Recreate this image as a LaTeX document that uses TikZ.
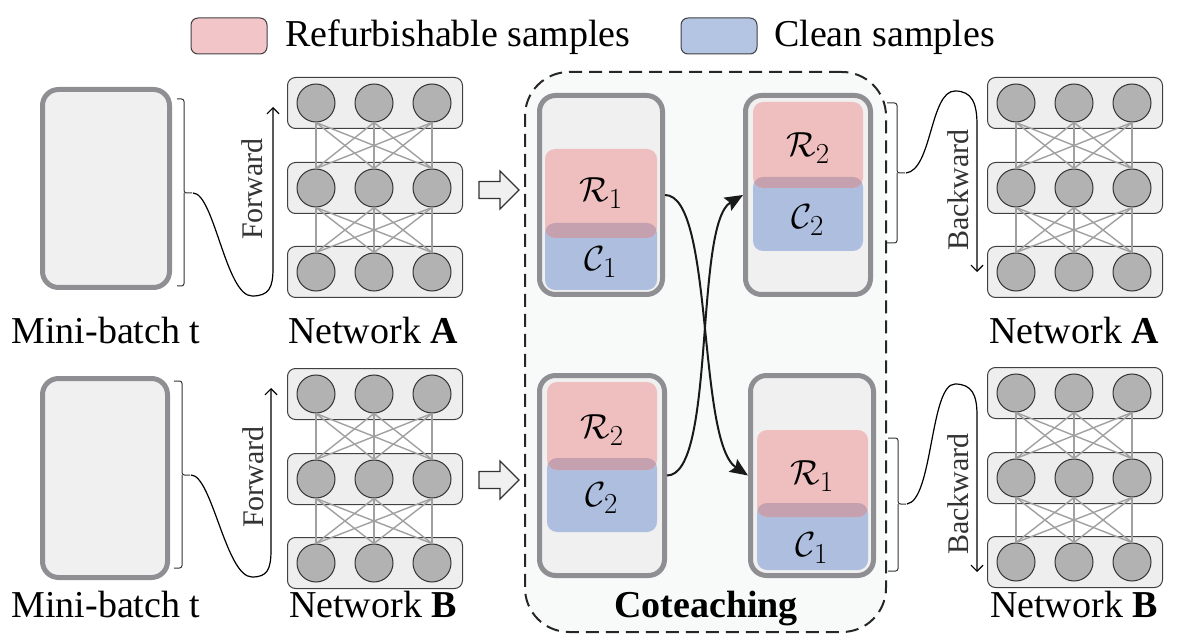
\documentclass[tikz,border=0pt]{standalone}
\usepackage{fontspec}
\setmainfont{Liberation Serif}
\usetikzlibrary{arrows.meta}
\definecolor{pinkc}{HTML}{EFBFC0}
\definecolor{bluec}{HTML}{ADBEDE}
\definecolor{mauvec}{HTML}{C5A0AE}
\definecolor{legpink}{HTML}{F2C6C8}
\definecolor{legblue}{HTML}{B4C5E4}
\definecolor{bordc}{HTML}{8F8F93}
\definecolor{boxc}{HTML}{F0F0F0}
\definecolor{cotc}{HTML}{F8F9F9}
\definecolor{neuc}{HTML}{B2B2B2}
\definecolor{rowc}{HTML}{EEEEEE}
\definecolor{linkc}{HTML}{A0A0A0}
\tikzset{
 batchbox/.style={draw=bordc, line width=5pt, fill=boxc, rounded corners=16pt, inner sep=0pt},
 rowbox/.style={draw=black!75, line width=1pt, fill=rowc, rounded corners=8pt, inner sep=0pt, minimum width=175pt, minimum height=51pt},
 neuron/.style={circle, draw=black!80, line width=1pt, fill=neuc, minimum size=38pt, inner sep=0pt},
 link/.style={draw=linkc, line width=1.4pt},
 lbl/.style={font=\fontsize{38}{42}\selectfont, inner sep=0pt},
 rotlbl/.style={font=\fontsize{30}{32}\selectfont, rotate=90, inner sep=0pt, text=black!80},
 brace/.style={draw=black!80, line width=1pt, rounded corners=2.5pt},
 flow/.style={draw=black, line width=1.2pt, -{Straight Barb[length=6pt,width=12pt]}},
 swap/.style={draw=black!90, line width=2pt, -{Stealth[length=18pt,width=15pt,inset=3pt]}},
 hollow/.style={draw=black!80, line width=1.2pt, fill=boxc, line join=miter},
 mlbl/.style={font=\fontsize{24.88}{28}\selectfont, inner sep=0pt, scale=1.4},
 legbox/.style={draw=black!75, line width=1pt, rounded corners=7pt, minimum width=76pt, minimum height=36pt, inner sep=0pt},
 cotbox/.style={draw=black!85, line width=2pt, dash pattern=on 13pt off 7pt, rounded corners=44pt, fill=cotc, inner sep=0pt},
}
\newcommand\netdraw[3]{%
 \foreach \r/\dy in {1/0,2/85,3/169}{
   \node[rowbox, anchor=west] (#1r\r) at (#2, #3+\dy) {};
   \foreach \c/\dx in {1/29,2/87,3/145}{
     \node[neuron] (#1n\r\c) at (#2+\dx, #3+\dy) {};
   }
 }
 \foreach \r/\s in {1/2,2/3}{\foreach \i in {1,2,3}{\foreach \j in {1,2,3}{
   \draw[link] (#1n\r\i.south) -- (#1n\s\j.north);}}}
}
\newcommand\samplesdraw[6]{% xl xr pinktop pinkbot bluetop bluebot
 \fill[bluec, rounded corners=10pt] (#1,#5) rectangle (#2,#6);
 \fill[pinkc, rounded corners=10pt] (#1,#3) rectangle (#2,#4);
 \begin{scope}
  \clip[rounded corners=10pt] (#1,#3) rectangle (#2,#4);
  \fill[mauvec, rounded corners=10pt] (#1,#5) rectangle (#2,#6);
 \end{scope}
}
\begin{document}
\begin{tikzpicture}[x=1pt,y=-1pt]
\useasboundingbox (0,0) rectangle (1186,644);
% legend
\node[legbox, fill=legpink] (legR) at (229,36) {};
\node[lbl, anchor=base west] (legRt) at (285,47) {Refurbishable samples};
\node[legbox, fill=legblue] (legC) at (719,36) {};
\node[lbl, anchor=base west] (legCt) at (774,47) {Clean samples};
% coteaching frame
\node[cotbox, minimum width=361pt, minimum height=560pt] (cot) at (705.5,352) {};
\node[lbl, anchor=base, font=\fontsize{38}{42}\selectfont\bfseries] (cotl) at (706,617) {Coteaching};
% mini-batches
\node[batchbox, minimum width=127pt, minimum height=198pt] (mb1) at (106,188.5) {};
\node[batchbox, minimum width=125pt, minimum height=199pt] (mb2) at (105,478) {};
\node[lbl, anchor=base] (mbl1) at (106,344) {Mini-batch t};
\node[lbl, anchor=base] (mbl2) at (106,617) {Mini-batch t};
% networks
\netdraw{LA}{287}{103}
\netdraw{LB}{287}{394}
\netdraw{RA}{987}{103}
\netdraw{RB}{987}{393}
\node[lbl, anchor=base] (nla) at (373,344) {Network \textbf{A}};
\node[lbl, anchor=base] (nlb) at (373,617) {Network \textbf{B}};
\node[lbl, anchor=base] (nra) at (1074,344) {Network \textbf{A}};
\node[lbl, anchor=base] (nrb) at (1074,617) {Network \textbf{B}};
% coteaching boxes
\node[batchbox, minimum width=123pt, minimum height=199pt] (tl) at (601,195) {};
\node[batchbox, minimum width=125pt, minimum height=199pt] (tr) at (808,195) {};
\node[batchbox, minimum width=125pt, minimum height=200pt] (bl) at (602,475.5) {};
\node[batchbox, minimum width=123pt, minimum height=200pt] (br) at (812,475.5) {};
\samplesdraw{545}{657}{149}{238}{223}{290}
\samplesdraw{753}{863}{102}{188}{177}{251}
\samplesdraw{547}{657}{382}{470}{458}{532}
\samplesdraw{757}{868}{430}{517}{503}{570}
\node[mlbl] (r1a) at (601,193) {$\mathcal{R}_1$};
\node[mlbl] (c1a) at (601,262) {$\mathcal{C}_1$};
\node[mlbl] (r2a) at (808,148) {$\mathcal{R}_2$};
\node[mlbl] (c2a) at (808,220) {$\mathcal{C}_2$};
\node[mlbl] (r2b) at (602,430) {$\mathcal{R}_2$};
\node[mlbl] (c2b) at (602,498) {$\mathcal{C}_2$};
\node[mlbl] (r1b) at (812,476) {$\mathcal{R}_1$};
\node[mlbl] (c1b) at (812,548) {$\mathcal{C}_1$};
% swap arrows
\draw[swap] (tl.east) .. controls +(49,0) and +(-51,-34) .. (br.west);
\draw[swap] (bl.east) .. controls +(49,0) and +(-49,29) .. (tr.west);
% hollow arrows
\draw[hollow] (479,181.5) -- (500,181.5) -- (500,171) -- (519,190) -- (500,209) -- (500,198.5) -- (479,198.5) -- cycle;
\draw[hollow] (479,471.5) -- (500,471.5) -- (500,461) -- (519,480) -- (500,499) -- (500,488.5) -- (479,488.5) -- cycle;
% left braces and forward arrows
\draw[brace] (177,99) -| (184,193) -- (192,193);
\draw[brace] (177,286) -| (184,193);
\coordinate (bt1) at (193,193);
\coordinate (fa1) at (273,107);
\draw[flow] (bt1) .. controls (214,193) and (226,296) .. (252,296) .. controls (269,296) and (273,288) .. (273,268) -- (fa1);
\node[rotlbl] (fw1) at (252,189) {Forward};
\draw[brace] (174,381) -| (182,475) -- (190,475);
\draw[brace] (174,568) -| (182,475);
\coordinate (bt2) at (191,475);
\coordinate (fa2) at (271,388);
\draw[flow] (bt2) .. controls (212,475) and (226,577) .. (252,577) .. controls (267,577) and (271,570) .. (271,550) -- (fa2);
\node[rotlbl] (fw2) at (253,477) {Forward};
% right braces and backward arrows
\draw[brace] (887,103) -| (897,173) -- (905,173);
\draw[brace] (887,243) -| (897,173);
\coordinate (bt3) at (906,173);
\coordinate (ba1) at (977,272);
\draw[flow] (bt3) .. controls (932,170) and (930,91) .. (955,91) .. controls (972,91) and (977,103) .. (977,125) -- (ba1);
\node[rotlbl] (bw1) at (958,190) {Backward};
\draw[brace] (888,438) -| (898,504) -- (906,504);
\draw[brace] (888,571) -| (898,504);
\coordinate (bt4) at (907,504);
\coordinate (ba2) at (977,572);
\draw[flow] (bt4) .. controls (933,500) and (930,384) .. (955,384) .. controls (972,384) and (977,395) .. (977,415) -- (ba2);
\node[rotlbl] (bw2) at (958,494) {Backward};
\end{tikzpicture}
\end{document}
